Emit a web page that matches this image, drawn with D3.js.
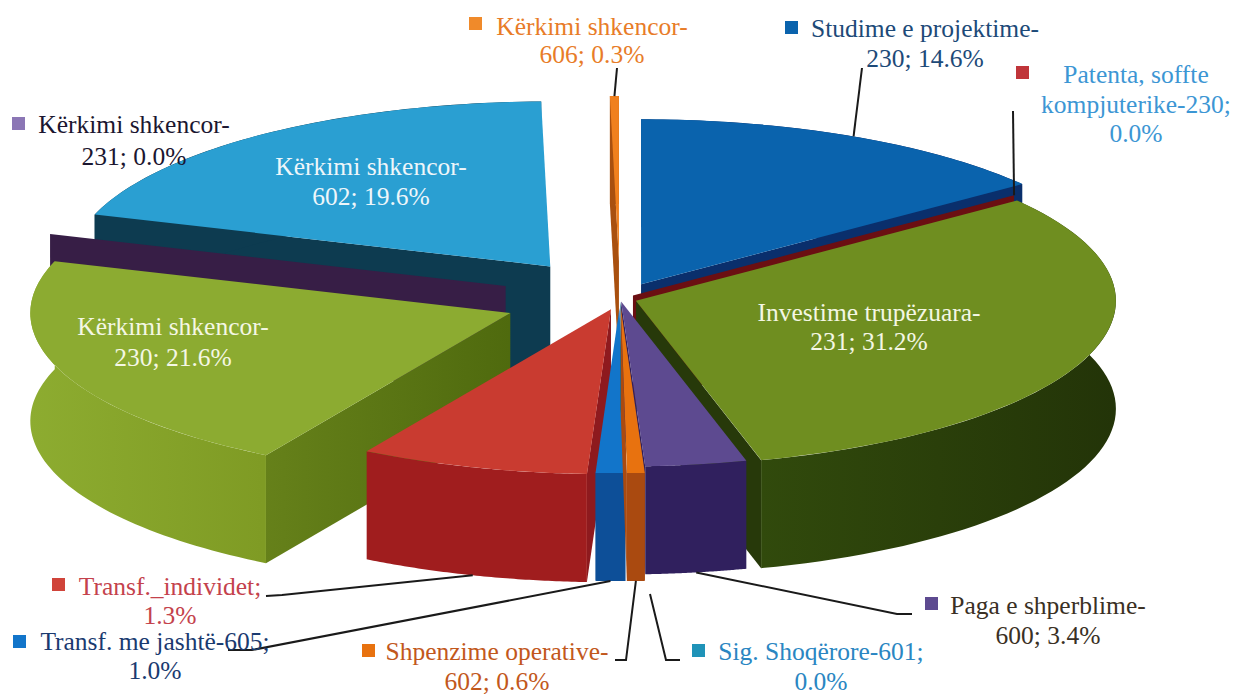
<!DOCTYPE html>
<html>
<head>
<meta charset="utf-8">
<script src="https://cdn.jsdelivr.net/npm/d3@7"></script>
<style>
  body { margin: 0; background: #fff; }
  text { font-family: "Liberation Serif", serif; font-size: 25.5px; text-anchor: middle; }
</style>
</head>
<body>
<script>
// Slices in clockwise order, starting from 12 o'clock
var categories = ["Studime e projektime-230", "Patenta, soffte kompjuterike-230", "Investime trupezuara-231",
    "Paga e shperblime-600", "Sig. Shoqerore-601", "Shpenzime operative-602", "Transf. me jashte-605",
    "Transf._individet", "Kerkimi shkencor-230", "Kerkimi shkencor-231", "Kerkimi shkencor-602", "Kerkimi shkencor-606"];

// Share of the pie as drawn. The red slice is labelled 1.3% but is drawn much wider
var shares = [14.6, 0, 31.2, 3.4, 0, 0.6, 1.0, 7.7, 21.6, 0, 19.6, 0.3];

// Label text, line by line
var labelLines = [
    ["Studime e projektime-", "230; 14.6%"],
    ["Patenta, soffte", "kompjuterike-230;", "0.0%"],
    ["Investime trupëzuara-", "231; 31.2%"],
    ["Paga e shperblime-", "600; 3.4%"],
    ["Sig. Shoqërore-601;", "0.0%"],
    ["Shpenzime operative-", "602; 0.6%"],
    ["Transf. me jashtë-605;", "1.0%"],
    ["Transf._individet;", "1.3%"],
    ["Kërkimi shkencor-", "230; 21.6%"],
    ["Kërkimi shkencor-", "231; 0.0%"],
    ["Kërkimi shkencor-", "602; 19.6%"],
    ["Kërkimi shkencor-", "606; 0.3%"]
];

// Styling, same order as the slices
var explode   = [0.099, 0.034, 0.035, 0.015, 0.015, 0.055, 0.055, 0.065, 0.244, 0.251, 0.245, 0.23];
var topColor  = ["#0a63ad", "#a82626", "#6f8e20", "#5d4a90", "#1f93b8", "#e8720f", "#1275ca", "#c93b30", "#8cab31", "#6a4f96", "#2a9fd2", "#f0801e"];
var wallColor = ["#0a2f6c", "#6b0f12", "url(#wallDark)", "#30205e", "#146a85", "#aa4a10", "#0d4f98", "#a01d1e", "url(#wallGreen)", "#371e46", "#0d3b50", "#a9500f"];
var faceColor = ["#0a2f6c", "#6b0f12", "#27390a", "#30205e", "#146a85", "#aa4a10", "#0d4f98", "#8e1a1e", "url(#faceGreen)", "#371e46", "#0d3b50", "#a9500f"];
var textColor = ["#1d4a78", "#3c96d4", "#f4f7e4", "#3a3024", "#2a86c2", "#c2581c", "#1a3a70", "#c4424c", "#f4f7e4", "#1b1630", "#eef6fa", "#e87c28"];
var keyColor  = ["#0a63ad", "#c0353a", null, "#5d4a90", "#1f93b8", "#e8720f", "#1275ca", "#d0443a", null, "#8b76b5", null, "#f08a2a"];

// Painter's order, back to front
var drawOrder = [10, 11, 0, 1, 9, 8, 2, 7, 6, 4, 3, 5];

// Where each label block sits: centre x, first baseline, line height, key square x and y
var labelPos = [
    {x: 925, y: 37, dy: 30, kx: 785, ky: 21},
    {x: 1136, y: 83, dy: 29.5, kx: 1016, ky: 66},
    {x: 869, y: 321, dy: 29},
    {x: 1048, y: 614, dy: 30, kx: 925, ky: 597},
    {x: 821, y: 660, dy: 30, kx: 692, ky: 644},
    {x: 497, y: 660, dy: 30, kx: 362, ky: 644},
    {x: 155, y: 650, dy: 29, kx: 13, ky: 635},
    {x: 170, y: 595, dy: 29, kx: 52, ky: 578},
    {x: 173, y: 335, dy: 31},
    {x: 134, y: 133, dy: 32, kx: 12, ky: 117},
    {x: 371, y: 175, dy: 30},
    {x: 592, y: 35, dy: 28, kx: 469, ky: 17}
];

// Leader lines: the elbow points on the label side, the slice end is computed
var leaders = [
    {i: 0, pts: [[862, 68]]},
    {i: 1, pts: [[1013, 111]]},
    {i: 3, pts: [[912, 614], [897, 614]]},
    {i: 4, pts: [[680, 660], [666, 660], [650, 594]], noAnchor: true},
    {i: 5, pts: [[615, 660], [626, 660]]},
    {i: 6, pts: [[228, 650], [252, 650]]},
    {i: 7, pts: [[266, 596], [282, 595]]},
    {i: 11, pts: [[617, 68]]}
];

var width = 1235, height = 696;
var cx = 620, cy = 299, rx = 480, ry = 165, depth = 108;

var svg = d3.select("body").append("svg")
    .attr("width", width)
    .attr("height", height);

var defs = svg.append("defs");
function addGradient(id, x1, x2, c1, c2) {
    var g = defs.append("linearGradient").attr("id", id)
        .attr("gradientUnits", "userSpaceOnUse")
        .attr("x1", x1).attr("x2", x2).attr("y1", 0).attr("y2", 0);
    g.append("stop").attr("offset", 0).attr("stop-color", c1);
    g.append("stop").attr("offset", 1).attr("stop-color", c2);
}
addGradient("wallGreen", 30, 262, "#8dac30", "#7f9b24");
addGradient("faceGreen", 262, 510, "#66811a", "#4f6a0e");
addGradient("wallDark", 761, 1115, "#314a0c", "#233408");

var pie = d3.pie().sort(null).startAngle(0).endAngle(2 * Math.PI);
var slices = pie(shares);

var topArc = d3.arc().innerRadius(0).outerRadius(1);
var line = d3.line();

// apex of an exploded slice
function apex(d, i) {
    var mid = (d.startAngle + d.endAngle) / 2;
    return [cx + explode[i] * rx * Math.sin(mid), cy - explode[i] * ry * Math.cos(mid)];
}

// point on the rim of a slice at angle a
function rim(d, i, a) {
    var p = apex(d, i);
    return [p[0] + rx * Math.sin(a), p[1] - ry * Math.cos(a)];
}

function drop(p) { return [p[0], p[1] + depth]; }

drawOrder.forEach(function(i) {
    var d = slices[i];
    var p = apex(d, i);
    var g = svg.append("g").attr("class", "slice");

    // the cut faces that look towards the viewer
    var faces = [];
    if (Math.sin(d.startAngle) < 0) faces.push(d.startAngle);
    if (Math.sin(d.endAngle) > 0) faces.push(d.endAngle);
    faces.forEach(function(a) {
        var r = rim(d, i, a);
        g.append("path")
            .attr("d", line([p, r, drop(r), drop(p)]) + "Z")
            .attr("fill", faceColor[i]);
    });

    // outer wall
    var steps = d3.range(0, 61).map(function(k) {
        return rim(d, i, d.startAngle + (d.endAngle - d.startAngle) * k / 60);
    });
    g.append("path")
        .attr("d", line(steps.concat(steps.slice().reverse().map(drop))) + "Z")
        .attr("fill", wallColor[i]);

    // top surface
    g.append("path")
        .attr("d", topArc(d))
        .attr("transform", "translate(" + p[0] + "," + p[1] + ") scale(" + rx + "," + ry + ")")
        .attr("fill", topColor[i]);
});

// leader lines
leaders.forEach(function(l) {
    var d = slices[l.i];
    var pts = l.pts.slice();
    if (!l.noAnchor) {
        var mid = (d.startAngle + d.endAngle) / 2;
        var r = rim(d, l.i, mid);
        pts.push(Math.cos(mid) < 0 ? drop(r) : r);
    }
    svg.append("path")
        .attr("d", line(pts))
        .attr("fill", "none")
        .attr("stroke", "#1a1a1a")
        .attr("stroke-width", 2);
});

// labels
labelLines.forEach(function(lines, i) {
    var pos = labelPos[i];
    var g = svg.append("g").attr("class", "label");
    lines.forEach(function(t, k) {
        g.append("text")
            .attr("x", pos.x)
            .attr("y", pos.y + k * pos.dy)
            .attr("fill", textColor[i])
            .text(t);
    });
    if (keyColor[i] && pos.kx !== undefined) {
        g.append("rect")
            .attr("x", pos.kx).attr("y", pos.ky)
            .attr("width", 13).attr("height", 13)
            .attr("fill", keyColor[i]);
    }
});
</script>
</body>
</html>
